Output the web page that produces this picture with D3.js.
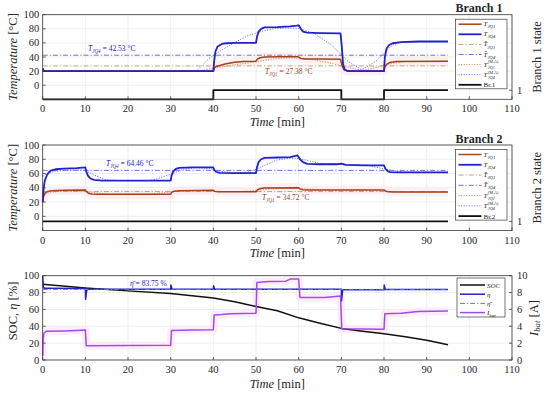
<!DOCTYPE html>
<html><head><meta charset="utf-8">
<script src="https://cdn.jsdelivr.net/npm/d3@7"></script>
<style>
body{margin:0;background:#fff}
svg{display:block}
text{font-family:"Liberation Serif","DejaVu Serif",serif;fill:#262626}
</style>
</head><body>
<svg id="c" width="550" height="396"></svg>
<script>
// ---------------- DATA ----------------
const timeTicks = [0,10,20,30,40,50,60,70,80,90,100,110];
const tempTicks = [0,20,40,60,80,100];
const pctTicks  = [0,20,40,60,80,100];
const ampTicks  = [0,2,4,6,8,10];
const stateTicks = [1];

// Branch 1 (time [min], value)
const b1Q1 = [[0,20],[40,20],[40.2,24],[40.6,26.5],[41.5,28],[43,30.5],[45,32.5],[47,33.5],[50,34],[50.3,37],[51,39],[52,40],[55,40.2],[59.8,40.5],[60.5,38],[61.5,37.2],[65,37],[69.8,36.8],[70.2,27],[70.6,22],[71.5,20.5],[73,20],[80,20],[80.2,26],[80.7,30],[81.5,32.5],[83,33.5],[95,34]];
const b1Q4 = [[0,24],[0.3,20],[40,20],[40.2,35],[40.5,48],[41,55],[42,58.5],[43,59.5],[45,60],[50,60],[50.2,68],[50.6,76],[51.2,80],[52,82],[55,82.5],[58,83.5],[59.5,84.5],[60,85],[60.5,80],[61,76],[62,74.5],[65,74],[69.8,73.5],[70.1,55],[70.4,30],[70.8,22],[71.5,20],[80,20],[80.2,40],[80.6,52],[81.2,57],[82,59.5],[84,61],[88,62],[95,62]];
const b1Q1ma = [[0,20],[36,20],[40,24],[45,29],[50,33],[54,37.5],[57,38.5],[60,38.5],[63,36.5],[67,32],[71,26],[75,21],[78,25],[82,31],[85,33.5],[95,34]];
const b1Q4ma = [[0,20],[36,20],[39,38],[42,50],[44.5,59],[48,70],[51,76],[54,80],[57,81],[60,80.5],[63.5,74],[67.7,57],[71.6,33.5],[74.8,22],[78,33.5],[82,57],[84,61],[95,62]];
const b1State = [[0,0],[40,0],[40,1],[70,1],[70,0],[80,0],[80,1],[95,1]];
const b1MeanQ1 = 27.38, b1MeanQ4 = 42.53;

// Branch 2
const b2Q1 = [[0,20],[0.2,28],[0.6,33],[1.2,35],[2,35.8],[5,36.5],[10,37],[10.2,35],[10.7,32.5],[11.5,31.3],[13,31],[30,31],[30.2,33.5],[30.8,35.2],[32,36],[40,36.5],[40.3,35],[41,34.3],[50,34.3],[50.3,37],[51,39],[52,39.8],[60,40],[60.3,38.5],[61,37.3],[62,37],[80,37],[80.3,35.5],[81,34.3],[82,34],[95,34]];
const b2Q4 = [[0,20],[0.2,38],[0.5,50],[1,58],[1.5,62],[2,64.5],[3,66],[5,67],[8,67.5],[10,68.5],[10.2,63],[10.6,57],[11.2,53],[12,51],[14,50],[30,50],[30.2,57],[30.6,63],[31.2,66.5],[32,68],[35,68.5],[40,68.5],[40.2,65],[40.6,62.5],[41.5,61],[45,60.5],[50,60.5],[50.2,68],[50.6,76],[51.2,80],[52,82],[55,82.5],[58,83],[59.7,85.5],[60.3,80],[61,76],[62,73.5],[65,73],[69,73],[70,74],[71,72],[75,71.5],[80,71.5],[80.3,67],[80.8,63.5],[81.5,62],[84,61.5],[95,61.5]];
const b2Q1ma = [[0,30],[2,34],[5,35.5],[10,35],[13,32.5],[15,31.2],[25,31.2],[28,33],[32,35.5],[35,36],[38,36],[42,35],[45,34.5],[48,35.5],[52,37.5],[55,39],[58,39.5],[62,38.5],[65,37.2],[75,37],[78,36],[82,34.8],[85,34.2],[95,34]];
const b2Q4ma = [[0,56],[1,60],[3,63.5],[6,64.5],[9,65],[10,64],[12,58],[15,51],[18,50],[25,50],[27,53],[30,59],[33,66],[36,68],[39,67],[42,63],[45,61],[48,62],[50,66],[53,74],[55,79],[58,81.5],[60,81],[62,78.5],[65,74],[70,73],[76,72],[78,69],[80,66.5],[83,63],[86,62],[95,61.5]];
const b2State = [[0,1],[95,1]];
const b2MeanQ1 = 34.72, b2MeanQ4 = 64.46;

// Battery
const soc  = [[0,90],[10,85.5],[20,82],[30,79],[40,73.5],[45,69],[50,63.5],[55,58.5],[60,50],[65,43.5],[70,37.5],[75,34],[80,31],[85,27.5],[90,23.5],[95,18]];
const eta  = [[0,100],[0.15,86],[0.5,85],[10,84.8],[10.05,72],[10.3,82.5],[10.6,83.8],[30,83.8],[30.05,89],[30.3,84.2],[40,84],[40.05,88],[40.3,83.8],[70,83.8],[70.05,70],[70.3,83.2],[80,83.2],[80.05,89],[80.3,83.5],[95,83.5]];
const etaMean = 83.75;
const ibat = [[0,0.5],[0.1,2.5],[0.3,3.2],[0.8,3.4],[5,3.45],[8,3.5],[10,3.55],[10.2,1.7],[20,1.72],[30,1.76],[30.2,3.5],[35,3.55],[40,3.6],[40.2,5.35],[42,5.4],[44,5.5],[50,5.55],[50.2,9.2],[53,9.3],[57,9.35],[58,9.6],[60,9.6],[60.3,7.4],[66,7.4],[68,7.5],[69.8,7.6],[70.1,3.7],[80,3.65],[80.2,5.5],[84,5.55],[88,5.75],[95,5.8]];

// ---------------- STYLE ----------------
const C = {
  brown:'#a2441c', blue:'#2222cc', brownDD:'#c9a07c', blueDD:'#6f6fdc',
  brownDot:'#c8955a', blueDot:'#6c80e6', black:'#111', purple:'#a04ce6',
  grid:'#e6e6e6', axis:'#3a3a3a', halo:'#fde8ef', haloP:'#fce6f9'
};
const svg = d3.select('#c');
const X0 = 42.7, X1 = 512;
const x = d3.scaleLinear().domain([0,110]).range([X0,X1]);

function frame(top, bottom, yL, yTicks){
  const g = svg.append('g');
  g.selectAll('.gx').data(timeTicks).enter().append('line')
    .attr('x1',d=>x(d)).attr('x2',d=>x(d)).attr('y1',top).attr('y2',bottom)
    .attr('stroke',C.grid).attr('stroke-width',0.7);
  g.selectAll('.gy').data(yTicks).enter().append('line')
    .attr('x1',X0).attr('x2',X1).attr('y1',d=>yL(d)).attr('y2',d=>yL(d))
    .attr('stroke',C.grid).attr('stroke-width',0.7);
  return g;
}
function axes(top, bottom, yL, yTicks, yR, rTicks){
  const g = svg.append('g');
  g.append('rect').attr('x',X0).attr('y',top).attr('width',X1-X0).attr('height',bottom-top)
    .attr('fill','none').attr('stroke',C.axis).attr('stroke-width',0.8);
  g.selectAll('.tx').data(timeTicks).enter().append('line')
    .attr('x1',d=>x(d)).attr('x2',d=>x(d)).attr('y1',bottom).attr('y2',bottom-3)
    .attr('stroke',C.axis).attr('stroke-width',0.8);
  g.selectAll('.lx').data(timeTicks).enter().append('text')
    .attr('x',d=>x(d)).attr('y',bottom+13).attr('text-anchor','middle')
    .attr('font-size',10.5).text(d=>d);
  g.selectAll('.ty').data(yTicks).enter().append('line')
    .attr('x1',X0).attr('x2',X0+3).attr('y1',d=>yL(d)).attr('y2',d=>yL(d))
    .attr('stroke',C.axis).attr('stroke-width',0.8);
  g.selectAll('.ly').data(yTicks).enter().append('text')
    .attr('x',X0-3.5).attr('y',d=>yL(d)+3.5).attr('text-anchor','end')
    .attr('font-size',10.5).text(d=>d);
  g.selectAll('.tr').data(rTicks).enter().append('line')
    .attr('x1',X1).attr('x2',X1-3).attr('y1',d=>yR(d)).attr('y2',d=>yR(d))
    .attr('stroke',C.axis).attr('stroke-width',0.8);
  g.selectAll('.lr').data(rTicks).enter().append('text')
    .attr('x',X1+5).attr('y',d=>yR(d)+3.5).attr('text-anchor','start')
    .attr('font-size',10.5).text(d=>d);
  return g;
}
function timeLabel(yy){
  const t = svg.append('text').attr('x',(X0+X1)/2).attr('y',yy).attr('text-anchor','middle').attr('font-size',12.5);
  t.append('tspan').attr('font-style','italic').text('Time');
  t.append('tspan').text(' [min]');
}
function vLabel(xx, yy, parts, fs){
  const t = svg.append('text').attr('transform',`translate(${xx},${yy}) rotate(-90)`)
    .attr('text-anchor','middle').attr('font-size',fs||12.5);
  parts.forEach(p=>{
    const s = t.append('tspan').text(p.t);
    if(p.i) s.attr('font-style','italic');
    if(p.sub) s.attr('font-size',(fs||12.5)*0.7).attr('baseline-shift','-25%');
  });
}
function draw(data, yS, color, w, dash, g){
  const line = d3.line().x(d=>x(d[0])).y(d=>yS(d[1]));
  const p = (g||svg).append('path').datum(data).attr('d',line).attr('fill','none')
    .attr('stroke',color).attr('stroke-width',w).attr('stroke-linejoin','round');
  if(dash) p.attr('stroke-dasharray',dash);
  return p;
}
function meanLine(v, series, yS, color){
  const ext = d3.extent(series, d=>d[0]);
  draw([[ext[0],v],[ext[1],v]], yS, color, 1, '5,2,1.2,2');
}
const DD = '5,2,1.2,2', DOT = '1.2,1.4';

function mathT(g, xx, yy, opt, fs){
  fs = fs || 7;
  const t = g.append('text').attr('x',xx).attr('y',yy).attr('font-size',fs);
  t.append('tspan').attr('font-style','italic').text(opt.bar ? 'T\u0304' : 'T');
  if(opt.sup){
    g.append('text').attr('x',xx+fs*0.62).attr('y',yy-fs*0.45).attr('font-size',fs*0.6).text(opt.sup);
    g.append('text').attr('x',xx+fs*0.62).attr('y',yy+fs*0.35).attr('font-size',fs*0.6).attr('font-style','italic').text(opt.sub);
  } else {
    t.append('tspan').attr('font-size',fs*0.68).attr('font-style','italic').attr('dy',fs*0.3).text(opt.sub);
    if(opt.rest) t.append('tspan').attr('dy',-fs*0.3).text(opt.rest);
  }
  return t;
}

// ---------------- PANEL 1 & 2 ----------------
const panels = [
  {top:14.7, bottom:99.3, Q1:b1Q1, Q4:b1Q4, Q1ma:b1Q1ma, Q4ma:b1Q4ma, st:b1State, m1:b1MeanQ1, m4:b1MeanQ4,
   name:'Branch 1', br:'Br.1', rlab:'Branch 1 state', tl:125.5, ann4:[88,51], ann1:[265,74]},
  {top:145, bottom:230.6, Q1:b2Q1, Q4:b2Q4, Q1ma:b2Q1ma, Q4ma:b2Q4ma, st:b2State, m1:b2MeanQ1, m4:b2MeanQ4,
   name:'Branch 2', br:'Br.2', rlab:'Branch 2 state', tl:257, ann4:[106,166], ann1:[262,200]}
];
panels.forEach(P=>{
  const yL = d3.scaleLinear().domain([-20,100]).range([P.bottom,P.top]);
  const yR = d3.scaleLinear().domain([0,9.3]).range([P.bottom,P.top]);
  frame(P.top,P.bottom,yL,tempTicks);
  draw(P.Q1.filter(d=>P.name==='Branch 2'||d[0]>=40), yL, C.halo, 9).attr('opacity',0.7);
  meanLine(P.m1, P.Q1, yL, C.brownDD);
  meanLine(P.m4, P.Q4, yL, C.blueDD);
  draw(P.Q1ma, yL, C.brownDot, 1, DOT);
  draw(P.Q4ma, yL, C.blueDot, 1, DOT);
  draw(P.Q1, yL, C.brown, 1.5);
  draw(P.Q4, yL, C.blue, 1.8);
  draw(P.st, yR, C.black, 1.8);
  axes(P.top,P.bottom,yL,tempTicks,yR,stateTicks);
  timeLabel(P.tl);
  vLabel(17, (P.top+P.bottom)/2, [{t:'Temperature',i:1},{t:' [°C]'}]);
  vLabel(541, (P.top+P.bottom)/2, [{t:P.rlab}]);
  svg.append('text').attr('x',479).attr('y',P.top-2.5).attr('text-anchor','middle')
    .attr('font-size',12).attr('font-weight','bold').text(P.name);
  const ga = svg.append('g');
  mathT(ga, P.ann4[0], P.ann4[1], {bar:1, sub:'JQ4', rest:' = '+P.m4.toFixed(2)+' °C'}, 7.5).style('fill',C.blue).selectAll('tspan').style('fill',C.blue);
  const a1 = mathT(ga, P.ann1[0], P.ann1[1], {bar:1, sub:'JQ1', rest:' = '+P.m1.toFixed(2)+' °C'}, 7.5);
  a1.style('fill',C.brown).selectAll('tspan').style('fill',C.brown);
  const lx = 455.5, ly = P.top+4.5, lw = 51.5, lh = P.bottom-P.top-15;
  const lg = svg.append('g');
  lg.append('rect').attr('x',lx).attr('y',ly).attr('width',lw).attr('height',lh)
    .attr('fill','#fff').attr('stroke',C.axis).attr('stroke-width',0.7);
  const items = [
    {c:C.brown,w:1.5,d:null,o:{sub:'JQ1'}},
    {c:C.blue,w:1.8,d:null,o:{sub:'JQ4'}},
    {c:C.brownDD,w:1,d:DD,o:{bar:1,sub:'JQ1'}},
    {c:C.blueDD,w:1,d:DD,o:{bar:1,sub:'JQ4'}},
    {c:C.brownDot,w:1,d:DOT,o:{sup:'(M.A)',sub:'JQ1'}},
    {c:C.blueDot,w:1,d:DOT,o:{sup:'(M.A)',sub:'JQ4'}},
    {c:C.black,w:1.8,d:null,br:P.br}
  ];
  const step = (lh-9)/6;
  items.forEach((it,i)=>{
    const yy = ly+5+i*step;
    const l = lg.append('line').attr('x1',lx+3).attr('x2',lx+26).attr('y1',yy).attr('y2',yy)
      .attr('stroke',it.c).attr('stroke-width',it.w);
    if(it.d) l.attr('stroke-dasharray',it.d);
    if(it.br) lg.append('text').attr('x',lx+28).attr('y',yy+2.5).attr('font-size',7).text(it.br);
    else mathT(lg, lx+28, yy+2, it.o, 7);
  });
});

// ---------------- PANEL 3 ----------------
(function(){
  const top = 275.7, bottom = 360;
  const yL = d3.scaleLinear().domain([0,100]).range([bottom,top]);
  const yR = d3.scaleLinear().domain([0,10]).range([bottom,top]);
  frame(top,bottom,yL,pctTicks);
  draw(ibat, yR, C.haloP, 8).attr('opacity',0.7);
  draw(soc, yL, C.black, 1.5);
  draw(eta, yL, C.blue, 1.5);
  meanLine(etaMean, eta, yL, C.blueDD);
  draw(ibat, yR, C.purple, 1.5);
  axes(top,bottom,yL,pctTicks,yR,ampTicks);
  timeLabel(387.5);
  vLabel(17, 311, [{t:'SOC, '},{t:'η',i:1},{t:' [%]'}]);
  vLabel(538, 318, [{t:'I',i:1},{t:'bat',i:1,sub:1},{t:' [A]'}]);
  const ann = svg.append('text').attr('x',130).attr('y',286).attr('font-size',7.5).style('fill',C.blue);
  ann.append('tspan').attr('font-style','italic').text('η\u0304');
  ann.append('tspan').text(' = '+etaMean.toFixed(2)+' %');
  const lx=457, ly=278, lw=48, lh=39;
  const lg = svg.append('g');
  lg.append('rect').attr('x',lx).attr('y',ly).attr('width',lw).attr('height',lh)
    .attr('fill','#fff').attr('stroke',C.axis).attr('stroke-width',0.7);
  const items = [
    {c:C.black,w:1.5,d:null,t:'SOC'},
    {c:C.blue,w:1.5,d:null,t:'η'},
    {c:C.blueDD,w:1,d:DD,t:'η\u0304'},
    {c:C.purple,w:1.5,d:null,t:'I',s:'bat'}
  ];
  items.forEach((it,i)=>{
    const yy = ly+7+i*9.2;
    const l = lg.append('line').attr('x1',lx+3).attr('x2',lx+28).attr('y1',yy).attr('y2',yy)
      .attr('stroke',it.c).attr('stroke-width',it.w);
    if(it.d) l.attr('stroke-dasharray',it.d);
    const t = lg.append('text').attr('x',lx+30).attr('y',yy+2.5).attr('font-size',7).attr('font-style','italic').text(it.t);
    if(it.s) t.append('tspan').attr('font-size',5).attr('dy',1.5).text(it.s);
  });
})();
</script>
</body></html>
